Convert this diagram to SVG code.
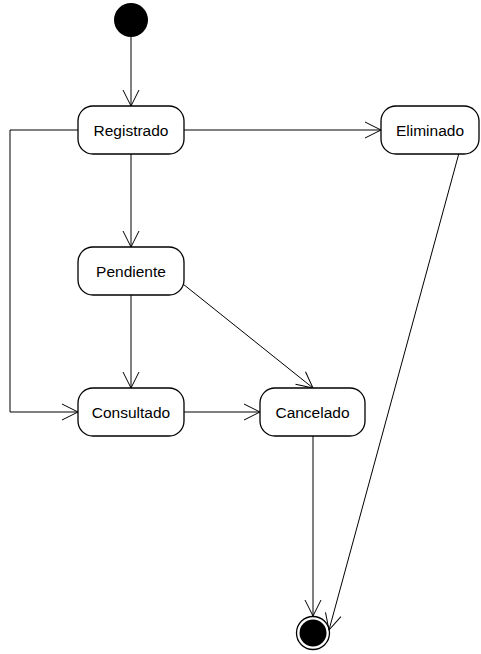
<svg xmlns="http://www.w3.org/2000/svg" width="481" height="654" viewBox="0 0 481 654">
<style>
.st rect{fill:#fff;stroke:#000;stroke-width:1.3}
.st text{font-family:"Liberation Sans",Arial,sans-serif;font-size:15.5px;text-anchor:middle;dominant-baseline:central;fill:#000}
.c{fill:none;stroke:#000;stroke-width:1}
</style>
<defs>
<marker id="a" markerUnits="userSpaceOnUse" markerWidth="20" markerHeight="20" viewBox="-17 -10 20 20" refX="0" refY="0" orient="auto">
<path d="M-16,-8 L0,0 L-16,8" fill="none" stroke="#000" stroke-width="1"/>
</marker>
</defs>
<rect width="481" height="654" fill="#fff"/>
<g id="start"><circle cx="131" cy="20" r="17" fill="#000"/></g>
<g id="end"><circle cx="313" cy="633" r="16.5" fill="#fff" stroke="#000" stroke-width="1.3"/><circle cx="313" cy="633" r="13.5" fill="#000"/></g>
<g id="connectors">
<path class="c" d="M131,37 L131,106" marker-end="url(#a)"/>
<path class="c" d="M184,130 L381,130" marker-end="url(#a)"/>
<path class="c" d="M131,154 L131,247" marker-end="url(#a)"/>
<path class="c" d="M78,130 L10,130 L10,412 L78,412" marker-end="url(#a)"/>
<path class="c" d="M131,295 L131,388" marker-end="url(#a)"/>
<path class="c" d="M183,284 L313,388" marker-end="url(#a)"/>
<path class="c" d="M184,412 L260,412" marker-end="url(#a)"/>
<path class="c" d="M313,436 L313,616" marker-end="url(#a)"/>
<path class="c" d="M459,153 L329,630" marker-end="url(#a)"/>
</g>
<g id="registrado" class="st"><rect x="78" y="106" width="106" height="48" rx="15"/><text x="131" y="130">Registrado</text></g>
<g id="eliminado" class="st"><rect x="381" y="106" width="98" height="48" rx="15"/><text x="430" y="130">Eliminado</text></g>
<g id="pendiente" class="st"><rect x="78" y="247" width="106" height="48" rx="15"/><text x="131" y="271">Pendiente</text></g>
<g id="consultado" class="st"><rect x="78" y="388" width="106" height="48" rx="15"/><text x="131" y="412">Consultado</text></g>
<g id="cancelado" class="st"><rect x="260" y="388" width="105" height="48" rx="15"/><text x="312.5" y="412">Cancelado</text></g>
</svg>
